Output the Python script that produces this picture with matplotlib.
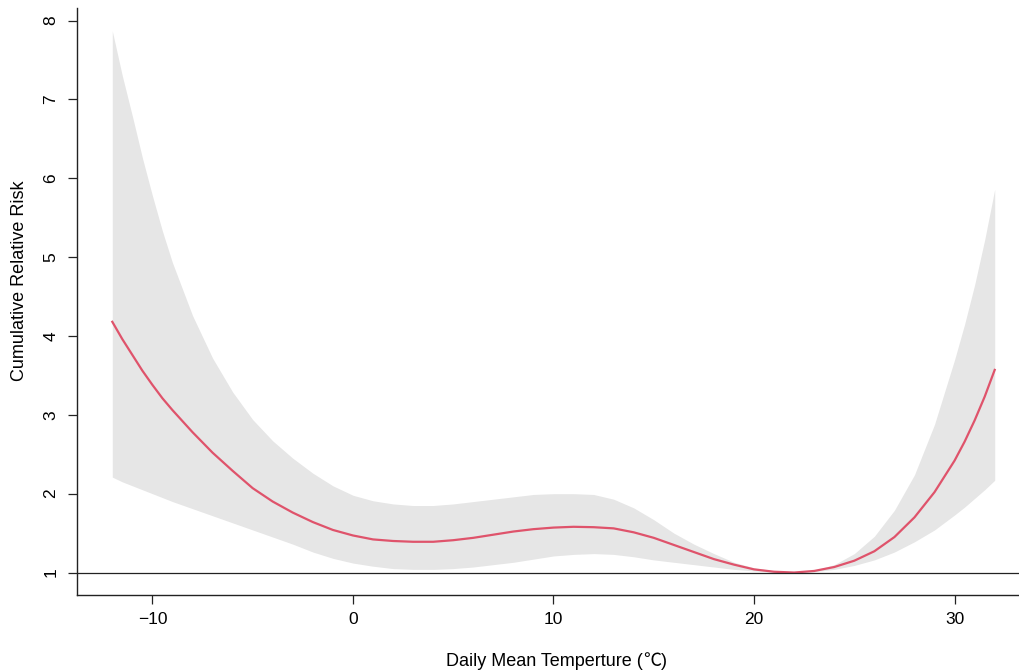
import numpy as np
import matplotlib
matplotlib.use("Agg")
import matplotlib.pyplot as plt

plt.rcParams['font.family'] = ['Liberation Sans', 'Noto Sans CJK SC', 'DejaVu Sans']

# temperature grid (deg C), finer at the steep ends
temp = [-12, -11.5, -11, -10.5, -10, -9.5, -9, -8, -7, -6, -5, -4, -3, -2, -1,
        0, 1, 2, 3, 4, 5, 6, 7, 8, 9, 10, 11, 12, 13, 14, 15, 16, 17, 18, 19,
        20, 21, 22, 23, 24, 25, 26, 27, 28, 29, 30, 30.5, 31, 31.5, 32]
rr = [4.18, 3.96, 3.76, 3.56, 3.38, 3.21, 3.06, 2.78, 2.52, 2.29, 2.07, 1.90,
      1.76, 1.64, 1.54,
      1.47, 1.42, 1.40, 1.39, 1.39, 1.41, 1.44, 1.48, 1.52, 1.55, 1.57, 1.58,
      1.575, 1.56, 1.51, 1.44, 1.35, 1.26, 1.17, 1.10, 1.04, 1.01, 1.00, 1.02,
      1.07, 1.15, 1.27, 1.45, 1.70, 2.02, 2.42, 2.66, 2.93, 3.23, 3.57]
upper = [7.87, 7.30, 6.79, 6.26, 5.78, 5.33, 4.93, 4.26, 3.72, 3.29, 2.94,
         2.67, 2.45, 2.26, 2.10,
         1.98, 1.91, 1.87, 1.85, 1.85, 1.87, 1.90, 1.93, 1.96, 1.99, 2.00,
         2.00, 1.99, 1.93, 1.82, 1.67, 1.50, 1.36, 1.24, 1.13, 1.06, 1.02,
         1.00, 1.03, 1.10, 1.24, 1.46, 1.79, 2.24, 2.88, 3.70, 4.15, 4.65,
         5.22, 5.86]
lower = [2.21, 2.15, 2.10, 2.05, 2.00, 1.95, 1.90, 1.81, 1.72, 1.63, 1.54,
         1.45, 1.36, 1.26, 1.18,
         1.12, 1.08, 1.05, 1.04, 1.04, 1.05, 1.07, 1.10, 1.13, 1.17, 1.21,
         1.23, 1.24, 1.23, 1.20, 1.16, 1.13, 1.10, 1.07, 1.04, 1.02, 1.005,
         1.00, 1.01, 1.04, 1.09, 1.16, 1.26, 1.39, 1.54, 1.73, 1.83, 1.94,
         2.05, 2.17]

xticks = [-10, 0, 10, 20, 30]
yticks = [1, 2, 3, 4, 5, 6, 7, 8]

W, H = 1020, 671
fig = plt.figure(figsize=(W / 100, H / 100), dpi=100)
# R-like plot region; right edge runs a bit past the image as in the reference
ax = fig.add_axes([77 / W, 1 - 595 / H, (1030 - 77) / W, (595 - 8) / H])

ax.fill_between(temp, lower, upper, color='#E6E6E6', linewidth=0)
ax.plot(temp, rr, color='#DF536B', lw=1.6)
ax.axhline(1, color='#222222', lw=0.9)

ax.set_xlim(-13.76, 33.76)
ax.set_ylim(0.715, 8.16)

for s in ['top', 'right']:
    ax.spines[s].set_visible(False)
for s in ['left', 'bottom']:
    ax.spines[s].set_color('#222222')
    ax.spines[s].set_linewidth(1.0)

ax.set_xticks(xticks)
ax.set_yticks(yticks)
ax.tick_params(direction='out', length=6.5, width=0.9, colors='#222222',
               labelsize=12.5, labelcolor='black')
ax.tick_params(axis='x', pad=6)
ax.tick_params(axis='y', pad=7)
for lab in ax.get_yticklabels():
    lab.set_rotation(90)
    lab.set_va('center')

ax.set_ylabel('Cumulative Relative Risk', fontsize=13)
ax.yaxis.set_label_coords(-(77 - 20) / (1030 - 77), (595 - 281) / (595 - 8))
ax.yaxis.label.set_va('center')

# x label in pieces so the degree sign comes from the CJK font, as in the reference
r = fig.canvas.get_renderer()
x0, base = 446 / W, 1 - 666 / H
pieces = [('Daily Mean Temperture (', ['Liberation Sans']),
          ('℃', ['Noto Sans CJK SC']),
          (')', ['Liberation Sans'])]
for txt, fam in pieces:
    t = fig.text(x0, base, txt, fontsize=13, family=fam, va='baseline', ha='left')
    x0 += t.get_window_extent(r).width / W

fig.savefig('out.png', dpi=100)
